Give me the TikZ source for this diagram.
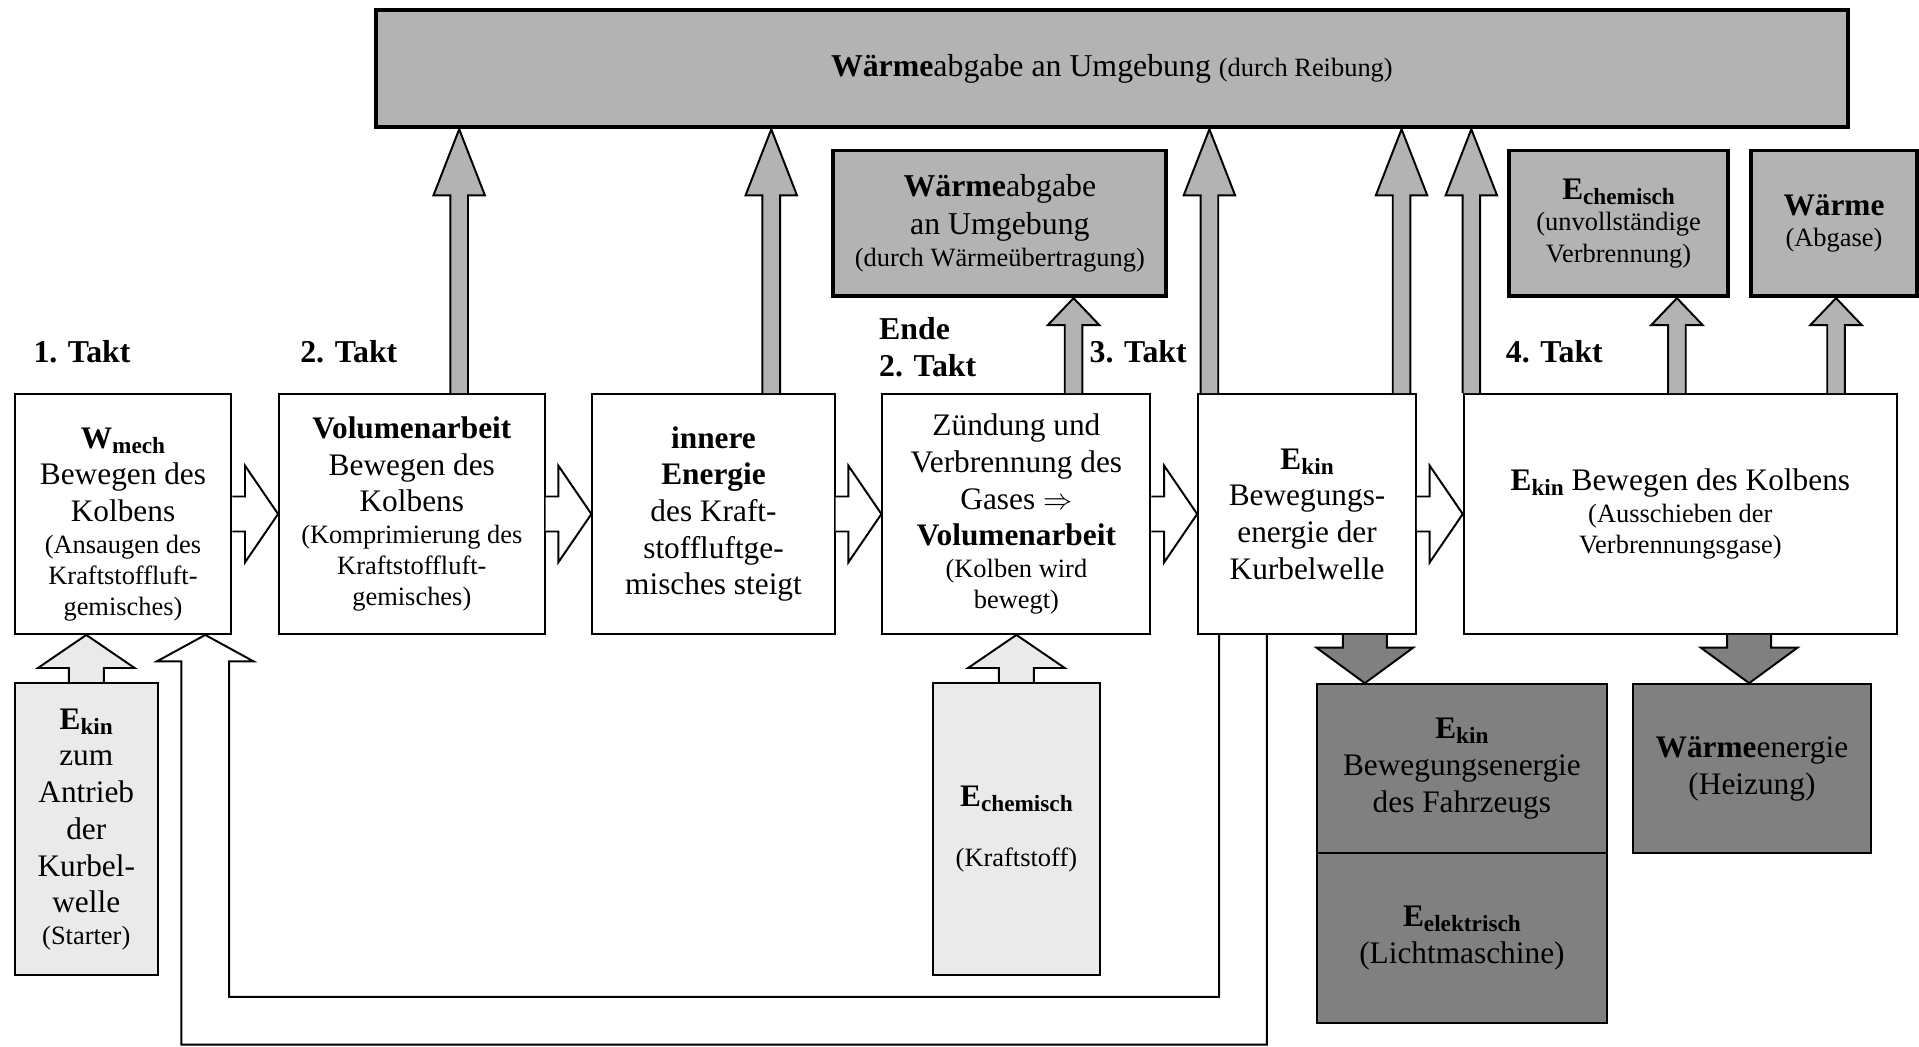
\documentclass[tikz,border=0pt]{standalone}
\usepackage{fontspec}
\setmainfont{Liberation Serif}
\usetikzlibrary{calc}
\definecolor{gmid}{HTML}{B3B3B3}
\definecolor{gdark}{HTML}{808080}
\definecolor{glight}{HTML}{EAEAEA}
\newcommand\fm{\fontsize{12.8}{15}\selectfont}
\newcommand\fs{\fontsize{10.8}{12.8}\selectfont}
\newcommand\fb{\fontsize{13}{15}\selectfont\bfseries}
\newcommand\Eb[2]{\textbf{#1}\raisebox{-0.35ex}{\fontsize{9.5}{10}\selectfont\textbf{#2}}}
\newcommand\varr[6]{\draw[#1] let \p1=(#2), \p2=(#3) in
 ({\x1-#4},\y1) -- ({\x1-#4},{\y2-(#6)}) -- ({\x1-#5},{\y2-(#6)}) -- (\x1,\y2) -- ({\x1+#5},{\y2-(#6)}) -- ({\x1+#4},{\y2-(#6)}) -- ({\x1+#4},\y1);}
\newcommand\harr[6]{\draw[#1] let \p1=(#2), \p2=(#3) in
 (\x1,{\y1+#4}) -- ({\x2-#6},{\y1+#4}) -- ({\x2-#6},{\y1+#5}) -- (\x2,\y1) -- ({\x2-#6},{\y1-#5}) -- ({\x2-#6},{\y1-#4}) -- (\x1,{\y1-#4});}
\hyphenpenalty=10000
\begin{document}
\begin{tikzpicture}[x=0.5pt,y=-0.5pt,
  box/.style={draw, line width=0.8pt, fill=white, align=flush center, inner sep=0pt, font=\fm},
  thickbox/.style={draw, line width=1.6pt, fill=gmid, align=flush center, inner sep=0pt, font=\fm},
  lightbox/.style={draw, line width=0.8pt, fill=glight, align=flush center, inner sep=0pt, font=\fm},
  darkbox/.style={draw, line width=0.8pt, fill=gdark, align=flush center, inner sep=0pt, font=\fm},
  hollow/.style={draw, line width=0.8pt, fill=white, line join=miter},
  pipe/.style={draw, line width=0.8pt, line join=miter},
  garr/.style={draw, line width=0.8pt, fill=gmid, line join=miter},
  larr/.style={draw, line width=0.8pt, fill=glight, line join=miter},
  darr/.style={draw, line width=0.8pt, fill=gdark, line join=miter},
  takt/.style={font=\fb, inner sep=0pt}]
\useasboundingbox (0,0) rectangle (1568,855);

% top box
\node[thickbox, minimum width=601.5pt, minimum height=48pt] (top) at (908.5,56)
  {{\fontsize{13}{15}\selectfont\textbf{Wärme}abgabe an Umgebung} {\fs (durch Reibung)}};

% upper gray boxes
\node[thickbox, minimum width=136pt, minimum height=59.5pt, text width=132pt] (wu) at (817,182.5)
  {\fontsize{13}{15.5}\selectfont\textbf{Wärme}abgabe\par an Umgebung\par{\fs (durch Wärmeübertragung)\par}};
\node[thickbox, minimum width=89.5pt, minimum height=59.5pt, text width=86pt] (ec) at (1322.5,182.5)
  {\Eb{E}{chemisch}\par{\fs (unvollständige\par Verbrennung)\par}};
\node[thickbox, minimum width=67.5pt, minimum height=59.5pt, text width=64pt] (wa) at (1498.5,182.5)
  {\textbf{Wärme}\par{\fs (Abgase)\par}\vskip 6pt};

% main row
\node[box, minimum width=88.5pt, minimum height=98pt, text width=85pt] (b1) at (100.5,420)
  {\vskip 2pt\Eb{W}{mech}\par Bewegen des\par Kolbens\par{\fs (Ansaugen des\par Kraftstoffluft-\par gemisches)\par}};
\node[box, minimum width=108.5pt, minimum height=98pt, text width=105pt] (b2) at (336.5,420)
  {\textbf{Volumenarbeit}\par Bewegen des\par Kolbens\par{\fs (Komprimierung des\par Kraftstoffluft-\par gemisches)\par}};
\node[box, minimum width=99pt, minimum height=98pt, text width=95pt] (b3) at (583,420)
  {\textbf{innere}\par\textbf{Energie}\par des Kraft-\par stoffluftge-\par misches steigt\par};
\node[box, minimum width=109.5pt, minimum height=98pt, text width=106pt] (b4) at (830.5,420)
  {Zündung und\par Verbrennung des\par Gases $\Rightarrow$\par\textbf{Volumenarbeit}\par{\fs (Kolben wird\par bewegt)\par}};
\node[box, minimum width=89pt, minimum height=98pt, text width=86pt] (b5) at (1068,420)
  {\Eb{E}{kin}\par Bewegungs-\par energie der\par Kurbelwelle\par\vskip 4pt};
\node[box, minimum width=177pt, minimum height=98pt, text width=172pt] (b6) at (1373,420)
  {\Eb{E}{kin} Bewegen des Kolbens\par{\fs (Ausschieben der\par Verbrennungsgase)\par}\vskip 10pt};

% bottom boxes
\node[lightbox, minimum width=58.5pt, minimum height=119.5pt, text width=56pt] (st) at (70.5,677.5)
  {\Eb{E}{kin}\par zum\par Antrieb\par der\par Kurbel-\par welle\par{\fs (Starter)\par}};
\node[lightbox, minimum width=68.5pt, minimum height=119.5pt, text width=66pt] (kr) at (830.5,677.5)
  {\Eb{E}{chemisch}\par\vskip 12pt{\fs (Kraftstoff)\par}};
\node[darkbox, minimum width=118.5pt, minimum height=69pt, text width=115pt] (fz) at (1194.5,628)
  {\Eb{E}{kin}\par Bewegungsenergie\par des Fahrzeugs\par\vskip 7pt};
\node[darkbox, minimum width=118.5pt, minimum height=69.5pt, text width=115pt] (el) at (1194.5,766.5)
  {\Eb{E}{elektrisch}\par (Lichtmaschine)\par\vskip 6pt};
\node[darkbox, minimum width=97.5pt, minimum height=69pt, text width=94pt] (wh) at (1431.5,628)
  {\textbf{Wärme}energie\par (Heizung)\par\vskip 8pt};

% Takt labels
\node[takt, anchor=base west] (t1) at (27,296) {1. Takt};
\node[takt, anchor=base west] (t2) at (245,296) {2. Takt};
\node[takt, anchor=north west, align=left] (te) at (718,259) {Ende\\2. Takt};
\node[takt, anchor=base west] (t3) at (890,296) {3. Takt};
\node[takt, anchor=base west] (t4) at (1230,296) {4. Takt};

% hollow horizontal arrows
\harr{hollow}{b1.east}{b2.west}{7.15pt}{19.75pt}{13.5pt}
\harr{hollow}{b2.east}{b3.west}{7.15pt}{19.75pt}{13.5pt}
\harr{hollow}{b3.east}{b4.west}{7.15pt}{19.75pt}{13.5pt}
\harr{hollow}{b4.east}{b5.west}{7.15pt}{19.75pt}{13.5pt}
\harr{hollow}{b5.east}{b6.west}{7.15pt}{19.75pt}{13.5pt}

% gray up arrows
\varr{garr}{$(b2.north west)+(148,0)$}{top.south}{3.6pt}{10.5pt}{27pt}
\varr{garr}{$(b3.north west)+(147,0)$}{top.south}{3.6pt}{10.5pt}{27pt}
\varr{garr}{$(b4.north west)+(157,0)$}{wu.south}{3.6pt}{10.5pt}{11pt}
\varr{garr}{$(b5.north west)+(10,0)$}{top.south}{3.6pt}{10.5pt}{27pt}
\varr{garr}{$(b5.north west)+(167,0)$}{top.south}{3.6pt}{10.5pt}{27pt}
\varr{garr}{$(b6.north west)+(7,0)$}{top.south}{3.6pt}{10.5pt}{27pt}
\varr{garr}{$(b6.north west)+(175,0)$}{ec.south}{3.6pt}{10.5pt}{11pt}
\varr{garr}{$(b6.north west)+(305,0)$}{wa.south}{3.6pt}{10.5pt}{11pt}

% light up arrows
\varr{larr}{st.north}{b1.south}{7.15pt}{19.75pt}{13.5pt}
\varr{larr}{kr.north}{b4.south}{7.15pt}{19.75pt}{13.5pt}

% dark down arrows
\varr{darr}{$(b5.south west)+(137,0)$}{fz.north}{9pt}{19.75pt}{-14.5pt}
\varr{darr}{$(b6.south west)+(234,0)$}{wh.north}{9pt}{19.75pt}{-14.5pt}

% feedback pipe arrow
\coordinate (fbR) at ($(b5.south west)+(37.5,0)$);
\coordinate (fbL) at ($(b1.south west)+(156.5,0)$);
\coordinate (fbY) at (0,834);
\draw[pipe] let \p1=(fbR), \p2=(fbL), \p3=(fbY) in
 ({\x1-9.75pt},\y1) -- ({\x1-9.75pt},{\y3+9.75pt}) -- ({\x2+9.75pt},{\y3+9.75pt}) -- ({\x2+9.75pt},{\y2-10.8pt}) -- ({\x2+19.75pt},{\y2-10.8pt}) -- (\x2,\y2) -- ({\x2-19.75pt},{\y2-10.8pt}) -- ({\x2-9.75pt},{\y2-10.8pt}) -- ({\x2-9.75pt},{\y3-9.75pt}) -- ({\x1+9.75pt},{\y3-9.75pt}) -- ({\x1+9.75pt},\y1);
\end{tikzpicture}
\end{document}
